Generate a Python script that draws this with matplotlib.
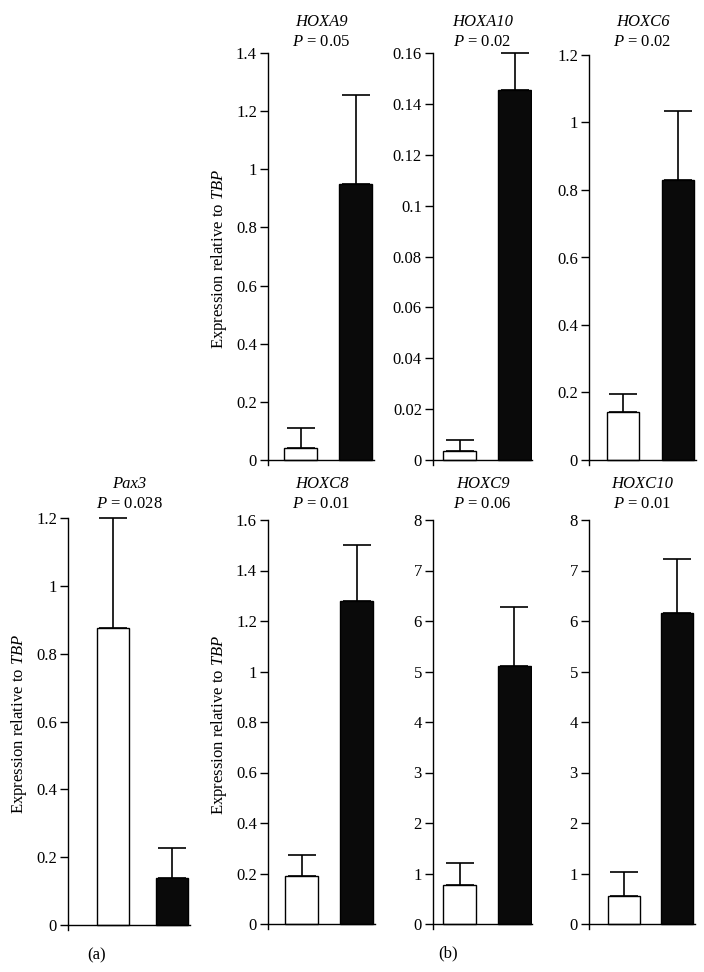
import numpy as np
import matplotlib
matplotlib.use('Agg')
import matplotlib.pyplot as plt

plt.rcParams['font.family'] = ['Liberation Serif', 'DejaVu Serif']
plt.rcParams['mathtext.fontset'] = 'custom'
plt.rcParams['mathtext.rm'] = 'Liberation Serif'
plt.rcParams['mathtext.it'] = 'Liberation Serif:italic'
plt.rcParams['font.size'] = 12

# data (white = control, black = case)
genes = ['HOXA9', 'HOXA10', 'HOXC6', 'Pax3', 'HOXC8', 'HOXC9', 'HOXC10']
pvals = ['0.05', '0.02', '0.02', '0.028', '0.01', '0.06', '0.01']
means = [[0.04, 0.95], [0.0035, 0.1455], [0.143, 0.83], [0.875, 0.14],
         [0.19, 1.28], [0.78, 5.1], [0.55, 6.15]]
errs = [[0.07, 0.305], [0.0045, 0.0145], [0.052, 0.205], [0.325, 0.088],
        [0.085, 0.22], [0.43, 1.18], [0.47, 1.08]]
ymax = [1.4, 0.16, 1.2, 1.2, 1.6, 8, 8]
ystep = [0.2, 0.02, 0.2, 0.2, 0.2, 1, 1]

W, H = 704, 972
fig = plt.figure(figsize=(W / 100, H / 100), dpi=100)

# pixel layout: spine x, white bar l/r, black bar l/r, axis end, y of zero, y of top
layout = {
    'HOXA9':  (268, 284, 317, 339, 372, 374, 460, 53),
    'HOXA10': (433, 443, 476, 499, 530, 532, 460, 53),
    'HOXC6':  (589, 607, 639, 661, 694, 696, 460, 55),
    'Pax3':   (68, 97, 129, 156, 187, 190, 925, 518),
    'HOXC8':  (268, 285, 318, 340, 373, 375, 924, 520),
    'HOXC9':  (433, 443, 476, 498, 530, 532, 924, 520),
    'HOXC10': (589, 608, 640, 661, 693, 695, 924, 520),
}
ylabeled = ['HOXA9', 'Pax3', 'HOXC8']
ext = 5  # spine overhang below zero, px

for i, g in enumerate(genes):
    sx, wl, wr, bl, br, ex, y0, yt = layout[g]
    c0 = (wl + wr) / 2
    c1 = (bl + br) / 2
    unit = c1 - c0
    width = (wr - wl) / unit
    ax = fig.add_axes([sx / W, 1 - (y0 + ext) / H, (ex - sx) / W, (y0 + ext - yt) / H])
    x = np.arange(2)
    ax.bar(x, means[i], width=width, color=['white', '#0a0a0a'],
           edgecolor='black', linewidth=1.0, zorder=2)
    ax.errorbar(x, means[i], yerr=[[0, 0], errs[i]], fmt='none', ecolor='black',
                elinewidth=1.2, capsize=10, capthick=1.2, zorder=1, clip_on=False)
    ax.set_xlim((sx - c0) / unit, (ex - c0) / unit)
    lo = -ymax[i] * ext / (y0 - yt)
    ax.set_ylim(lo, ymax[i])
    ticks = np.round(np.arange(0, ymax[i] + ystep[i] / 2, ystep[i]), 4)
    ax.set_yticks(ticks)
    ax.set_yticklabels(['%g' % t for t in ticks])
    ax.set_xticks([])
    ax.spines['top'].set_visible(False)
    ax.spines['right'].set_visible(False)
    ax.spines['bottom'].set_position(('data', 0))
    ax.spines['left'].set_linewidth(1.0)
    ax.spines['bottom'].set_linewidth(1.0)
    ax.tick_params(axis='y', direction='out', length=6, width=1.0, pad=2, labelsize=12)
    ax.patch.set_alpha(0)
    if g in ylabeled:
        ax.set_ylabel('Expression relative to $TBP$', fontsize=12, labelpad=5)
    cx = ((sx + ex) / 2) / W
    ty = 22 if y0 < 500 else 484
    fig.text(cx, 1 - ty / H, g, ha='center', va='center', fontstyle='italic', fontsize=12)
    fig.text(cx, 1 - (ty + 20) / H, '$P$ = ' + pvals[i], ha='center', va='center', fontsize=12)

fig.text(97 / W, 1 - 955 / H, '(a)', ha='center', va='center', fontsize=12)
fig.text(448 / W, 1 - 953 / H, '(b)', ha='center', va='center', fontsize=12)

fig.savefig('out.png', dpi=100)
